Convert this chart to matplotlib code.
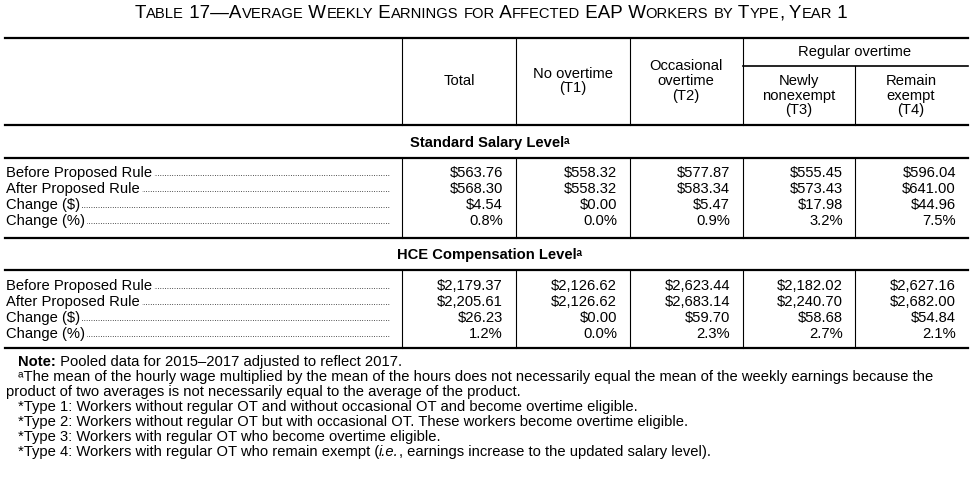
import matplotlib.pyplot as plt
from matplotlib import font_manager

names = {f.name for f in font_manager.fontManager.ttflist}
FONT = 'Liberation Sans Narrow' if 'Liberation Sans Narrow' in names else 'Liberation Sans'
plt.rcParams['font.family'] = [FONT, 'DejaVu Sans']

row_labels = ['Before Proposed Rule', 'After Proposed Rule', 'Change ($)', 'Change (%)']
std_vals = [
    ['$563.76', '$558.32', '$577.87', '$555.45', '$596.04'],
    ['$568.30', '$558.32', '$583.34', '$573.43', '$641.00'],
    ['$4.54', '$0.00', '$5.47', '$17.98', '$44.96'],
    ['0.8%', '0.0%', '0.9%', '3.2%', '7.5%'],
]
hce_vals = [
    ['$2,179.37', '$2,126.62', '$2,623.44', '$2,182.02', '$2,627.16'],
    ['$2,205.61', '$2,126.62', '$2,683.14', '$2,240.70', '$2,682.00'],
    ['$26.23', '$0.00', '$59.70', '$58.68', '$54.84'],
    ['1.2%', '0.0%', '2.3%', '2.7%', '2.1%'],
]
col_heads = [['Total'], ['No overtime', '(T1)'], ['Occasional', 'overtime', '(T2)'],
             ['Newly', 'nonexempt', '(T3)'], ['Remain', 'exempt', '(T4)']]
title = 'Table 17\u2014Average Weekly Earnings for Affected EAP Workers by Type, Year 1'
notes = [
    (18, [('Note:', 'bold'), (' Pooled data for 2015\u20132017 adjusted to reflect 2017.', 'normal')]),
    (18, [('\u1d43The mean of the hourly wage multiplied by the mean of the hours does not necessarily equal the mean of the weekly earnings because the', 'normal')]),
    (6, [('product of two averages is not necessarily equal to the average of the product.', 'normal')]),
    (18, [('*Type 1: Workers without regular OT and without occasional OT and become overtime eligible.', 'normal')]),
    (18, [('*Type 2: Workers without regular OT but with occasional OT. These workers become overtime eligible.', 'normal')]),
    (18, [('*Type 3: Workers with regular OT who become overtime eligible.', 'normal')]),
    (18, [('*Type 4: Workers with regular OT who remain exempt (', 'normal'), ('i.e.', 'italic'),
          (', earnings increase to the updated salary level).', 'normal')]),
]

fig = plt.figure(figsize=(9.8, 4.78), dpi=100)
ax = fig.add_axes([0, 0, 1, 1])
ax.set_xlim(0, 980)
ax.set_ylim(478, 0)
ax.axis('off')
rend = fig.canvas.get_renderer()

def width(t):
    bb = t.get_window_extent(rend)
    return bb.width

def runs(x, y, pieces, fs):
    for txt, style in pieces:
        kw = {'fontweight': 'bold'} if style == 'bold' else ({'fontstyle': 'italic'} if style == 'italic' else {})
        t = ax.text(x, y, txt, ha='left', va='center', fontsize=fs, **kw)
        x += width(t)

fs = 10.6
L, R = 5, 968
vx = [402, 516, 630, 743, 855]
col_c = [459, 573, 686, 799, 911]
col_r = [503, 617, 730, 843, 956]

# small caps title, scaled to the reference width
def smallcaps(scale):
    pieces = []
    for word in title.split(' '):
        cur = ''
        for ch in word:
            big = not ch.islower()
            if pieces and pieces[-1][1] == big:
                pieces[-1] = (pieces[-1][0] + ch, big)
            else:
                pieces.append((ch, big))
        pieces.append((' ', True))
    return pieces[:-1]

pieces = smallcaps(1)
tmp = [ax.text(0, -100, p.upper(), fontsize=11.5 if b else 9) for p, b in pieces]
tw = sum(width(t) for t in tmp)
for t in tmp:
    t.remove()
k = 710 / tw
x = 490 - 355
for p, b in pieces:
    t = ax.text(x, 18, p.upper(), ha='left', va='baseline', fontsize=(11.5 if b else 9) * k)
    x += width(t)

for y in [38, 125, 158, 238, 270, 348]:
    ax.plot([L, R], [y, y], color='black', lw=1.6)
ax.plot([743, R], [66, 66], color='black', lw=1.2)
for x in vx:
    for y0, y1 in [(38, 125), (158, 238), (270, 348)]:
        if x == 855 and y0 == 38:
            y0 = 66
        ax.plot([x, x], [y0, y1], color='black', lw=0.8)

ax.text(855, 52, 'Regular overtime', ha='center', va='center', fontsize=fs)
for c, lines in zip(col_c, col_heads):
    if c > 743:
        ys = [81, 96, 110]
    else:
        ys = {1: [81], 2: [74, 88], 3: [66, 81, 96]}[len(lines)]
    for yy, t in zip(ys, lines):
        ax.text(c, yy, t, ha='center', va='center', fontsize=fs, linespacing=1)

def block(title, y_title, vals, y0):
    ax.text(490, y_title, title, ha='center', va='center', fontsize=fs, fontweight='bold')
    for i, lab in enumerate(row_labels):
        y = y0 + i * 16
        ax.text(390, y + 3, '.' * 160, ha='right', va='baseline', fontsize=6, zorder=1)
        ax.text(6, y, lab, ha='left', va='center', fontsize=fs, zorder=3,
                bbox=dict(facecolor='white', edgecolor='none', pad=1.5))
        for r, v in zip(col_r, vals[i]):
            ax.text(r, y, v, ha='right', va='center', fontsize=fs)

block('Standard Salary Level\u1d43', 143, std_vals, 173)
block('HCE Compensation Level\u1d43', 255, hce_vals, 286)

for i, (x, pcs) in enumerate(notes):
    runs(x, 362 + i * 15, pcs, fs)

fig.savefig('out.png', dpi=100)
